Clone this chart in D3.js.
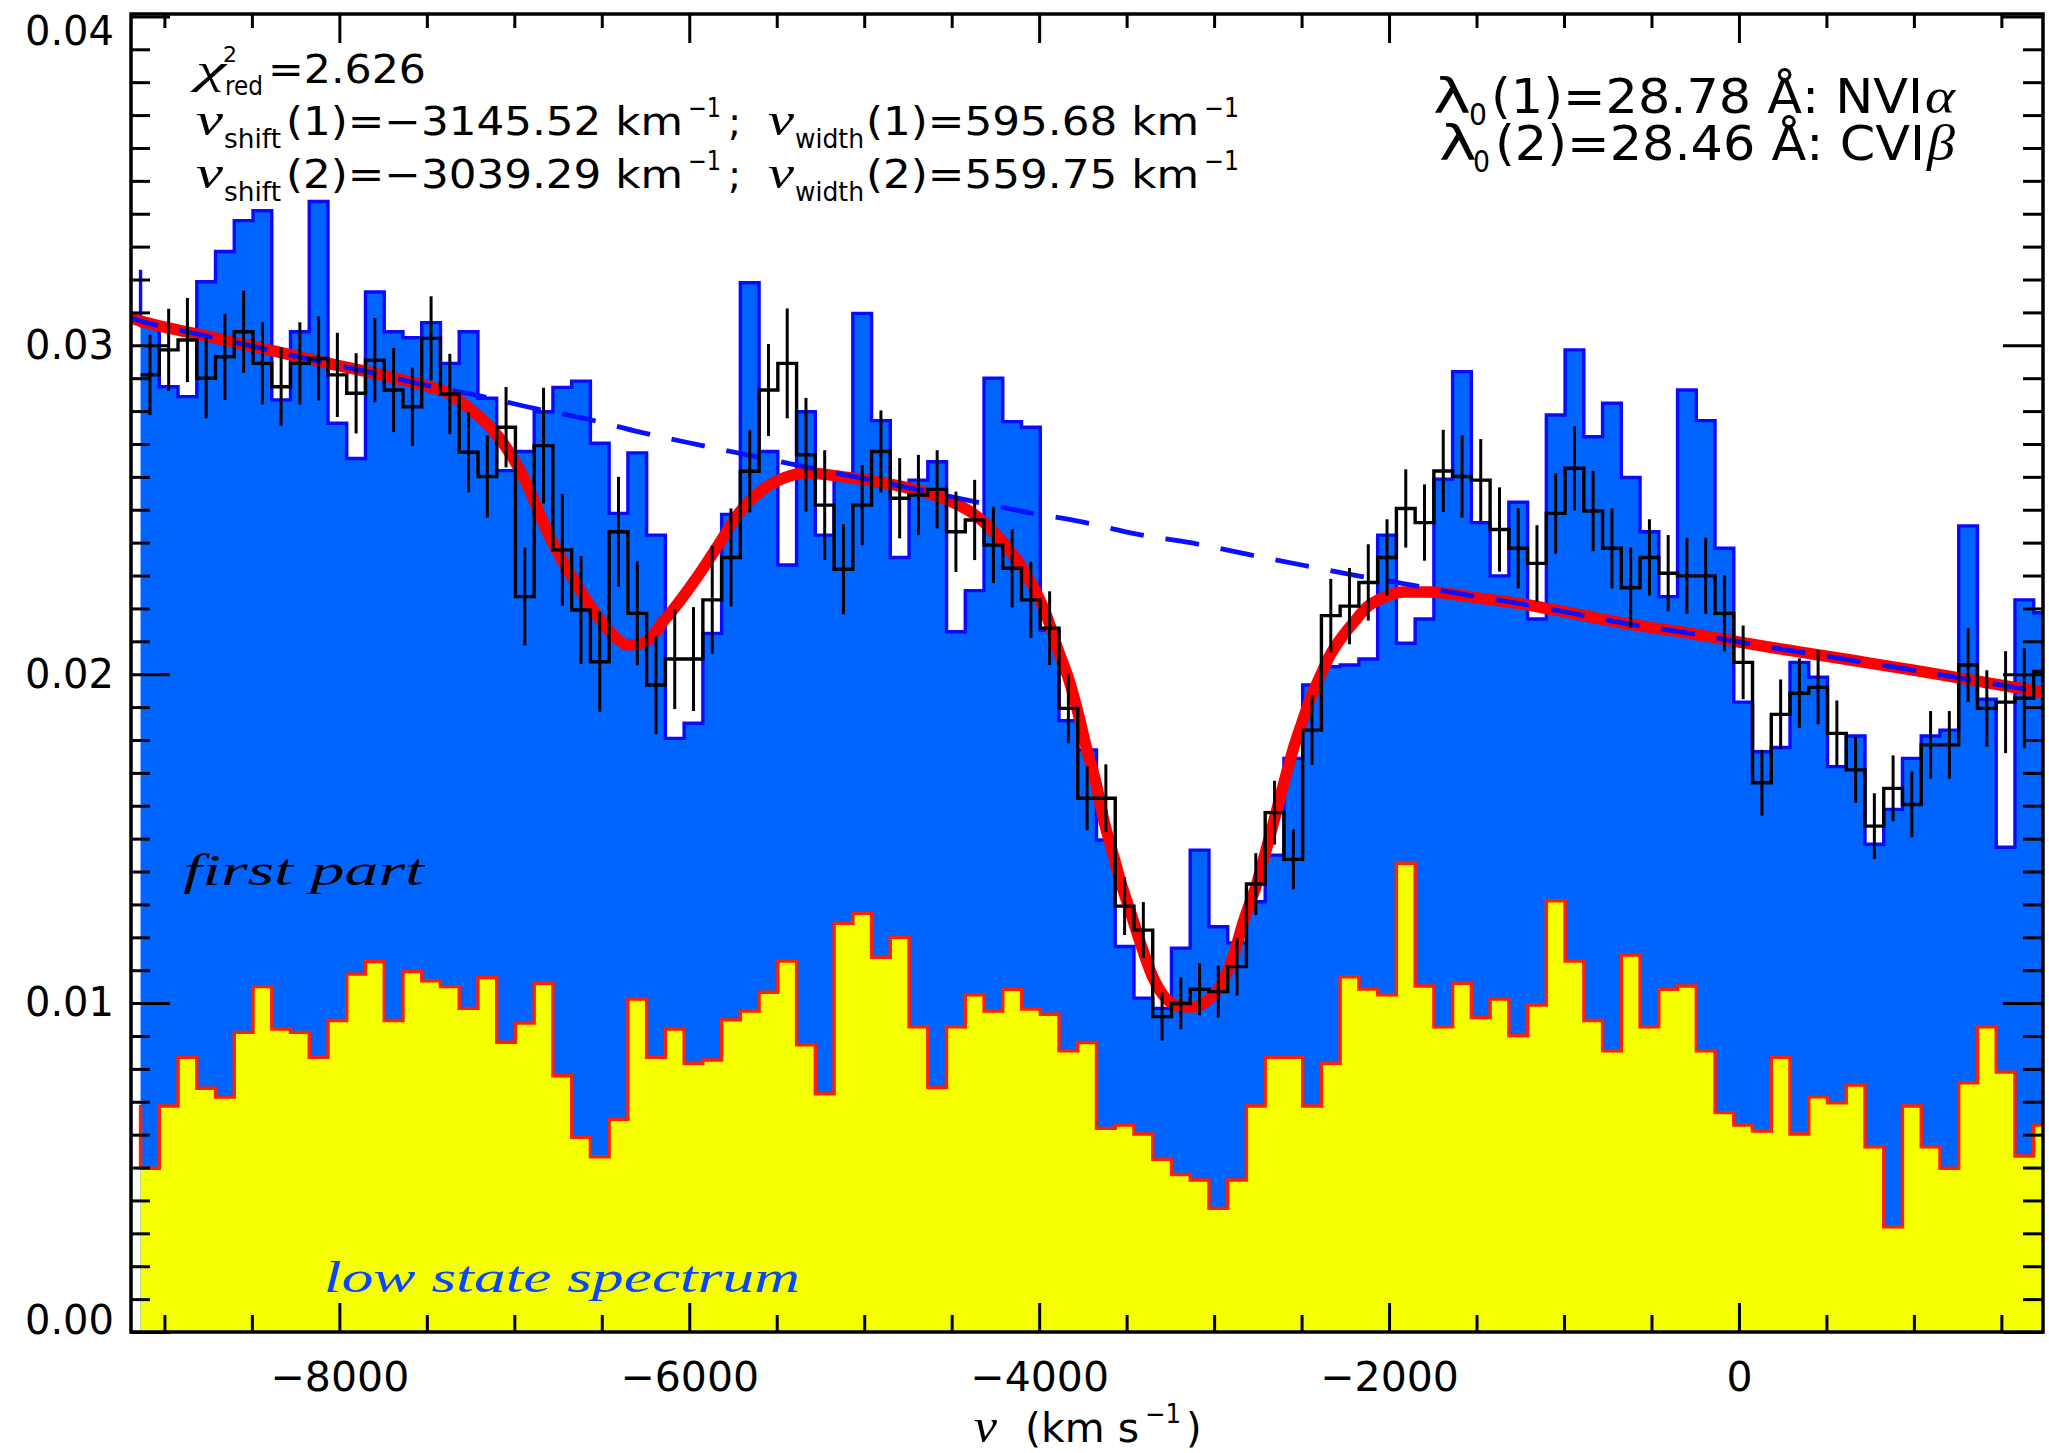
<!DOCTYPE html>
<html>
<head>
<meta charset="utf-8">
<script src="https://cdn.jsdelivr.net/npm/d3@7"></script>
<style>
  html, body { margin: 0; padding: 0; background: #fff; }
  svg { display: block; }
</style>
</head>
<body>
<svg id="chart" width="2049" height="1453" font-family="DejaVu Sans, sans-serif"></svg>
<script>
// Velocity grid of the spectral bins (km/s): lower edge of the first bin and bin width
const binStart = -9136.4;
const binWidth = 107.14;

// "first part" spectrum (filled blue), flux per bin
const firstPart = [
  0.0306, 0.02874, 0.02844, 0.03193, 0.03285, 0.03379, 0.03409, 0.02834, 0.03041, 0.03437,
  0.02763, 0.02656, 0.03162, 0.03041, 0.03023, 0.03069, 0.02945, 0.03041, 0.02839, 0.02619,
  0.02677, 0.02798, 0.02872, 0.02891, 0.02702, 0.02489, 0.02673, 0.02423, 0.01805, 0.01851,
  0.02124, 0.02486, 0.03190, 0.02677, 0.02332, 0.02798, 0.02423, 0.02590, 0.03097, 0.02771,
  0.02355, 0.02590, 0.02646, 0.02129, 0.02254, 0.02900, 0.02768, 0.02751, 0.02134, 0.01859,
  0.01770, 0.01496, 0.01172, 0.01015, 0.00984, 0.01167, 0.01465, 0.01232, 0.01183, 0.01308,
  0.01450, 0.01744, 0.01967, 0.02023, 0.02028, 0.02046, 0.02423, 0.02094, 0.02168, 0.02593,
  0.02920, 0.02461, 0.02299, 0.02523, 0.02168, 0.02788, 0.02986, 0.02722, 0.02824, 0.02598,
  0.02433, 0.02236, 0.02864, 0.02771, 0.02383, 0.01915, 0.01764, 0.01777, 0.02036, 0.01991,
  0.01719, 0.01812, 0.01483, 0.01589, 0.01744, 0.01812, 0.01830, 0.02451, 0.01924, 0.01474,
  0.02226, 0.02187
];

// low state spectrum (filled yellow), flux per bin
const lowState = [
  0.00498, 0.00687, 0.00835, 0.00741, 0.00714, 0.00911, 0.01050, 0.00921, 0.00911, 0.00835,
  0.00947, 0.01088, 0.01126, 0.00947, 0.01096, 0.01068, 0.01050, 0.00984, 0.01078, 0.00881,
  0.00939, 0.01060, 0.00779, 0.00592, 0.00533, 0.00647, 0.01012, 0.00835, 0.00921, 0.00817,
  0.00827, 0.00949, 0.00976, 0.01033, 0.01128, 0.00873, 0.00724, 0.01243, 0.01273, 0.01139,
  0.01200, 0.00928, 0.00743, 0.00928, 0.01025, 0.00976, 0.01042, 0.00982, 0.00966, 0.00855,
  0.00880, 0.00619, 0.00629, 0.00602, 0.00525, 0.00479, 0.00462, 0.00376, 0.00462, 0.00687,
  0.00835, 0.00835, 0.00687, 0.00817, 0.01080, 0.01043, 0.01025, 0.01425, 0.01052, 0.00928,
  0.01060, 0.00956, 0.01012, 0.00901, 0.00994, 0.01311, 0.01128, 0.00947, 0.00855, 0.01146,
  0.00928, 0.01042, 0.01052, 0.00855, 0.00667, 0.00629, 0.00611, 0.00835, 0.00602, 0.00715,
  0.00697, 0.00751, 0.00563, 0.00320, 0.00687, 0.00563, 0.00498, 0.00758, 0.00928, 0.00790,
  0.00535, 0.00629
];

// observed spectrum (black histogram) and its 1-sigma errors
const observed = [
  0.02910, 0.02986, 0.03016, 0.02900, 0.02965, 0.03041, 0.02945, 0.02874, 0.02945, 0.02960,
  0.02910, 0.02854, 0.02955, 0.02864, 0.02813, 0.03021, 0.02852, 0.02675, 0.02601, 0.02751,
  0.02236, 0.02695, 0.02378, 0.02195, 0.02038, 0.02433, 0.02185, 0.01967, 0.02046, 0.02046,
  0.02226, 0.02355, 0.02617, 0.02864, 0.02945, 0.02667, 0.02514, 0.02319, 0.02514, 0.02677,
  0.02535, 0.02545, 0.02562, 0.02433, 0.02469, 0.02393, 0.02322, 0.02226, 0.02140, 0.01896,
  0.01623, 0.01623, 0.01295, 0.01222, 0.00959, 0.00999, 0.01042, 0.01035, 0.01111, 0.01362,
  0.01579, 0.01437, 0.01830, 0.02178, 0.02207, 0.02279, 0.02355, 0.02504, 0.02461, 0.02618,
  0.02601, 0.02590, 0.02440, 0.02383, 0.02337, 0.02489, 0.02626, 0.02496, 0.02383, 0.02263,
  0.02355, 0.02307, 0.02299, 0.02299, 0.02185, 0.02036, 0.01670, 0.01878, 0.01942, 0.01960,
  0.01820, 0.01709, 0.01538, 0.01653, 0.01604, 0.01785, 0.01785, 0.02028, 0.01896, 0.01915,
  0.01927, 0.02008
];
const observedErr = [
  0.00122, 0.00125, 0.00128, 0.00122, 0.00131, 0.00125, 0.00125, 0.00119, 0.00125, 0.00128,
  0.00128, 0.00122, 0.00128, 0.00128, 0.00119, 0.00128, 0.00122, 0.00122, 0.00125, 0.00122,
  0.00149, 0.00176, 0.00170, 0.00164, 0.00152, 0.00167, 0.00158, 0.00149, 0.00152, 0.00158,
  0.00164, 0.00149, 0.00125, 0.00140, 0.00167, 0.00173, 0.00167, 0.00137, 0.00122, 0.00125,
  0.00122, 0.00122, 0.00119, 0.00122, 0.00122, 0.00116, 0.00119, 0.00116, 0.00112, 0.00106,
  0.00097, 0.00103, 0.00088, 0.00085, 0.00073, 0.00079, 0.00079, 0.00079, 0.00088, 0.00094,
  0.00097, 0.00091, 0.00106, 0.00112, 0.00116, 0.00116, 0.00116, 0.00119, 0.00116, 0.00125,
  0.00125, 0.00125, 0.00128, 0.00122, 0.00116, 0.00122, 0.00128, 0.00122, 0.00122, 0.00122,
  0.00116, 0.00116, 0.00116, 0.00116, 0.00116, 0.00112, 0.00100, 0.00106, 0.00106, 0.00112,
  0.00100, 0.00100, 0.00100, 0.00100, 0.00100, 0.00103, 0.00103, 0.00112, 0.00116, 0.00155,
  0.00152, 0.00146
];

// values at which the two filled outlines start on the first bin edge
const firstPartLead = 0.0323;
const lowStateLead = 0.0069;

// best-fit two-line absorption model: [velocity km/s, flux]
const model = [
  [-9191, 0.03083], [-9174, 0.03080], [-8785, 0.03031], [-8453, 0.02992], [-8150, 0.02955],
  [-7836, 0.02919], [-7505, 0.02876], [-7390, 0.02858], [-7259, 0.02809], [-7133, 0.02749],
  [-7007, 0.02657], [-6933, 0.02584], [-6876, 0.02514], [-6802, 0.02423], [-6727, 0.02347],
  [-6624, 0.02256], [-6521, 0.02174], [-6418, 0.02110], [-6350, 0.02089], [-6281, 0.02092],
  [-6213, 0.02116], [-6161, 0.02153], [-6099, 0.02192], [-5967, 0.02286], [-5841, 0.02387],
  [-5716, 0.02490], [-5584, 0.02560], [-5458, 0.02597], [-5333, 0.02612], [-5201, 0.02606],
  [-5075, 0.02597], [-4950, 0.02587], [-4795, 0.02572], [-4641, 0.02551], [-4487, 0.02521],
  [-4390, 0.02493], [-4287, 0.02448], [-4184, 0.02387], [-4081, 0.02311], [-3955, 0.02174],
  [-3892, 0.02074], [-3824, 0.01973], [-3772, 0.01870], [-3727, 0.01770], [-3675, 0.01669],
  [-3635, 0.01566], [-3584, 0.01465], [-3532, 0.01365], [-3469, 0.01262], [-3418, 0.01177],
  [-3355, 0.01085], [-3292, 0.01025], [-3218, 0.00994], [-3126, 0.00988], [-3035, 0.01009],
  [-2961, 0.01055], [-2898, 0.01131], [-2829, 0.01253], [-2755, 0.01365], [-2703, 0.01465],
  [-2652, 0.01566], [-2601, 0.01669], [-2549, 0.01770], [-2498, 0.01852], [-2446, 0.01931],
  [-2395, 0.01992], [-2343, 0.02052], [-2269, 0.02113], [-2200, 0.02159], [-2126, 0.02204],
  [-2023, 0.02235], [-1920, 0.02250], [-1766, 0.02250], [-1606, 0.02241], [-1452, 0.02229],
  [-1235, 0.02213], [-932, 0.02183], [-600, 0.02150], [-286, 0.02125], [29, 0.02095],
  [354, 0.02067], [674, 0.02040], [989, 0.02013], [1297, 0.01985], [1629, 0.01955], [1738, 0.01945]
];

// fitted continuum (dashed blue): [velocity km/s, flux]
const continuum = [
  [-9191, 0.03083], [-9174, 0.03080], [-8785, 0.03031], [-8453, 0.02992], [-8150, 0.02955],
  [-7836, 0.02919], [-7505, 0.02879], [-7196, 0.02846], [-6893, 0.02809], [-6584, 0.02776],
  [-6281, 0.02736], [-5996, 0.02703], [-5641, 0.02664], [-5333, 0.02630], [-5024, 0.02597],
  [-4692, 0.02561], [-4390, 0.02527], [-4075, 0.02493], [-3755, 0.02463], [-3441, 0.02426],
  [-3126, 0.02399], [-2812, 0.02365], [-2498, 0.02332], [-2178, 0.02299], [-1869, 0.02271],
  [-1560, 0.02241], [-1235, 0.02213], [-932, 0.02183], [-600, 0.02150], [-286, 0.02125],
  [29, 0.02095], [354, 0.02067], [674, 0.02040], [989, 0.02013], [1297, 0.01985],
  [1629, 0.01955], [1738, 0.01945]
];

// axis ticks
const xMajor = [-8000, -6000, -4000, -2000, 0];
const xMinor = [-9000, -8500, -7500, -7000, -6500, -5500, -5000, -4500, -3500, -3000, -2500, -1500, -1000, -500, 500, 1000, 1500];
const yMajor = [0.00, 0.01, 0.02, 0.03, 0.04];
const yMinor = d3.range(1, 40).filter(i => i % 10 !== 0).map(i => i / 1000);

// ---------------------------------------------------------------------------
const W = 2049, H = 1453;
const L = 131, R = 2043, T = 14, B = 1332;
const SANS = 'DejaVu Sans, sans-serif';
const SERIF_IT = 'Liberation Serif, DejaVu Serif, serif';

const x = d3.scaleLinear().domain([-9191, 1738]).range([L, R]);
const y = d3.scaleLinear().domain([0, 0.04]).range([B, 16.4]);

const svg = d3.select('#chart');
svg.append('rect').attr('width', W).attr('height', H).attr('fill', '#fff');

svg.append('defs').append('clipPath').attr('id', 'plotClip')
  .append('rect').attr('x', L).attr('y', T).attr('width', R - L).attr('height', B - T);
const plot = svg.append('g').attr('clip-path', 'url(#plotClip)');

const edges = d3.range(firstPart.length + 1).map(i => binStart + i * binWidth);
const centers = d3.range(firstPart.length).map(i => binStart + (i + 0.5) * binWidth);
const stepPoints = vals => {
  const pts = vals.map((v, i) => [edges[i], v]);
  pts.push([edges[vals.length], vals[vals.length - 1]]);
  return pts;
};

const stepArea = d3.area().curve(d3.curveStepAfter)
  .x(d => x(d[0])).y0(y(0)).y1(d => y(d[1]));
const stepLine = d3.line().curve(d3.curveStepAfter)
  .x(d => x(d[0])).y(d => y(d[1]));
const smoothLine = d3.line().curve(d3.curveMonotoneX)
  .x(d => x(d[0])).y(d => y(d[1]));

// first part spectrum
plot.append('path').attr('d', stepArea(stepPoints(firstPart))).attr('fill', '#0064ff');
plot.append('path')
  .attr('d', stepLine([[edges[0], firstPartLead], ...stepPoints(firstPart)]))
  .attr('fill', 'none').attr('stroke', '#0a0aff').attr('stroke-width', 3.4);

// low state spectrum
plot.append('path').attr('d', stepArea(stepPoints(lowState))).attr('fill', '#f5ff00');
plot.append('path')
  .attr('d', stepLine([[edges[0], lowStateLead], ...stepPoints(lowState)]))
  .attr('fill', 'none').attr('stroke', '#ff2000').attr('stroke-width', 3.4);

// model and continuum
plot.append('path').attr('d', smoothLine(model))
  .attr('fill', 'none').attr('stroke', '#ff0000').attr('stroke-width', 11.5)
  .attr('stroke-linejoin', 'round');
plot.append('path').attr('d', smoothLine(continuum))
  .attr('fill', 'none').attr('stroke', '#0a10ff').attr('stroke-width', 4.8)
  .attr('stroke-dasharray', '34 22').attr('stroke-dashoffset', 6);

// observed spectrum with error bars
plot.append('path').attr('d', stepLine(stepPoints(observed)))
  .attr('fill', 'none').attr('stroke', '#000').attr('stroke-width', 3.4);
plot.append('g').selectAll('line').data(observed).join('line')
  .attr('x1', (d, i) => x(centers[i])).attr('x2', (d, i) => x(centers[i]))
  .attr('y1', (d, i) => y(d - observedErr[i])).attr('y2', (d, i) => y(d + observedErr[i]))
  .attr('stroke', '#000').attr('stroke-width', 3);

// axes
function addAxis(gen, tr) {
  const g = svg.append('g').attr('transform', tr).call(gen);
  g.select('.domain').remove();
  g.selectAll('.tick line').attr('stroke', '#000').attr('stroke-width', 3);
  g.attr('font-family', SANS);
  g.selectAll('.tick text').attr('fill', '#000');
  return g;
}
const noLabel = () => '';

addAxis(d3.axisBottom(x).tickValues(xMajor).tickSize(-29).tickPadding(30).tickFormat(d3.format('d')),
  `translate(0,${B})`).attr('font-size', 41);
addAxis(d3.axisBottom(x).tickValues(xMinor).tickSize(-17).tickFormat(noLabel), `translate(0,${B})`);
addAxis(d3.axisTop(x).tickValues(xMajor).tickSize(-29).tickFormat(noLabel), `translate(0,${T})`);
addAxis(d3.axisTop(x).tickValues(xMinor).tickSize(-14).tickFormat(noLabel), `translate(0,${T})`);

const yAx = addAxis(d3.axisLeft(y).tickValues(yMajor).tickSize(-39).tickPadding(17).tickFormat(d3.format('.2f')),
  `translate(${L},0)`).attr('font-size', 40);
yAx.selectAll('.tick text').attr('dy', d => d === 0 ? 1 : (d === 0.04 ? 27.6 : '0.32em'));
addAxis(d3.axisLeft(y).tickValues(yMinor).tickSize(-19).tickFormat(noLabel), `translate(${L},0)`);
addAxis(d3.axisRight(y).tickValues(yMajor).tickSize(-40).tickFormat(noLabel), `translate(${R},0)`);
addAxis(d3.axisRight(y).tickValues(yMinor).tickSize(-20).tickFormat(noLabel), `translate(${R},0)`);

svg.append('rect').attr('x', L).attr('y', T).attr('width', R - L).attr('height', B - T)
  .attr('fill', 'none').attr('stroke', '#000').attr('stroke-width', 3.5);

// text helper
function txt(px, py, str, o = {}) {
  const t = svg.append('text').attr('x', px).attr('y', py).text(str)
    .attr('font-size', o.size || 39)
    .attr('font-family', o.italic ? SERIF_IT : SANS)
    .attr('fill', o.fill || '#000');
  if (o.italic) t.attr('font-style', 'italic');
  if (o.len) t.attr('textLength', o.len).attr('lengthAdjust', 'spacingAndGlyphs');
  return t;
}

// fit statistics
txt(196, 83, 'χ', { size: 42, italic: true, len: 30 });
txt(223, 62, '2', { size: 22, len: 14 });
txt(225, 95, 'red', { size: 26, len: 38 });
txt(268, 83, '=2.626', { size: 39, len: 158 });

[['1', '−3145.52', '595.68', 135], ['2', '−3039.29', '559.75', 188]].forEach(([n, sh, wd, yb]) => {
  txt(196, yb, 'v', { size: 46, italic: true, len: 27 });
  txt(224, yb + 13, 'shift', { size: 27, len: 57 });
  txt(286, yb, `(${n})=${sh} km`, { size: 39, len: 397 });
  txt(688, yb - 18, '−1', { size: 27, len: 33 });
  txt(728, yb, ';', { size: 39 });
  txt(768, yb, 'v', { size: 46, italic: true, len: 26 });
  txt(795, yb + 13, 'width', { size: 27, len: 69 });
  txt(866, yb, `(${n})=${wd} km`, { size: 39, len: 333 });
  txt(1204, yb - 18, '−1', { size: 27, len: 35 });
});

// rest wavelengths of the two lines
txt(1433, 113, 'λ', { size: 48, len: 38 });
txt(1469, 125, '0', { size: 30, len: 18 });
txt(1491, 113, '(1)=28.78 Å: NVI', { size: 48, len: 432 });
txt(1925, 113, 'α', { size: 50, italic: true, len: 30 });
txt(1439, 160, 'λ', { size: 48, len: 38 });
txt(1473, 172, '0', { size: 30, len: 17 });
txt(1495, 160, '(2)=28.46 Å: CVI', { size: 48, len: 430 });
txt(1927, 160, 'β', { size: 50, italic: true, len: 28 });

// spectrum captions
txt(183, 885, 'first part', { size: 44, italic: true, len: 241 });
txt(324, 1292, 'low state spectrum', { size: 44, italic: true, len: 476, fill: '#0a46ff' });

// x-axis title
txt(974, 1442, 'v', { size: 48, italic: true, len: 23 });
txt(1025, 1442, '(km s', { size: 40, len: 114 });
txt(1145, 1423, '−1', { size: 27, len: 36 });
txt(1186, 1442, ')', { size: 40 });
</script>
</body>
</html>
